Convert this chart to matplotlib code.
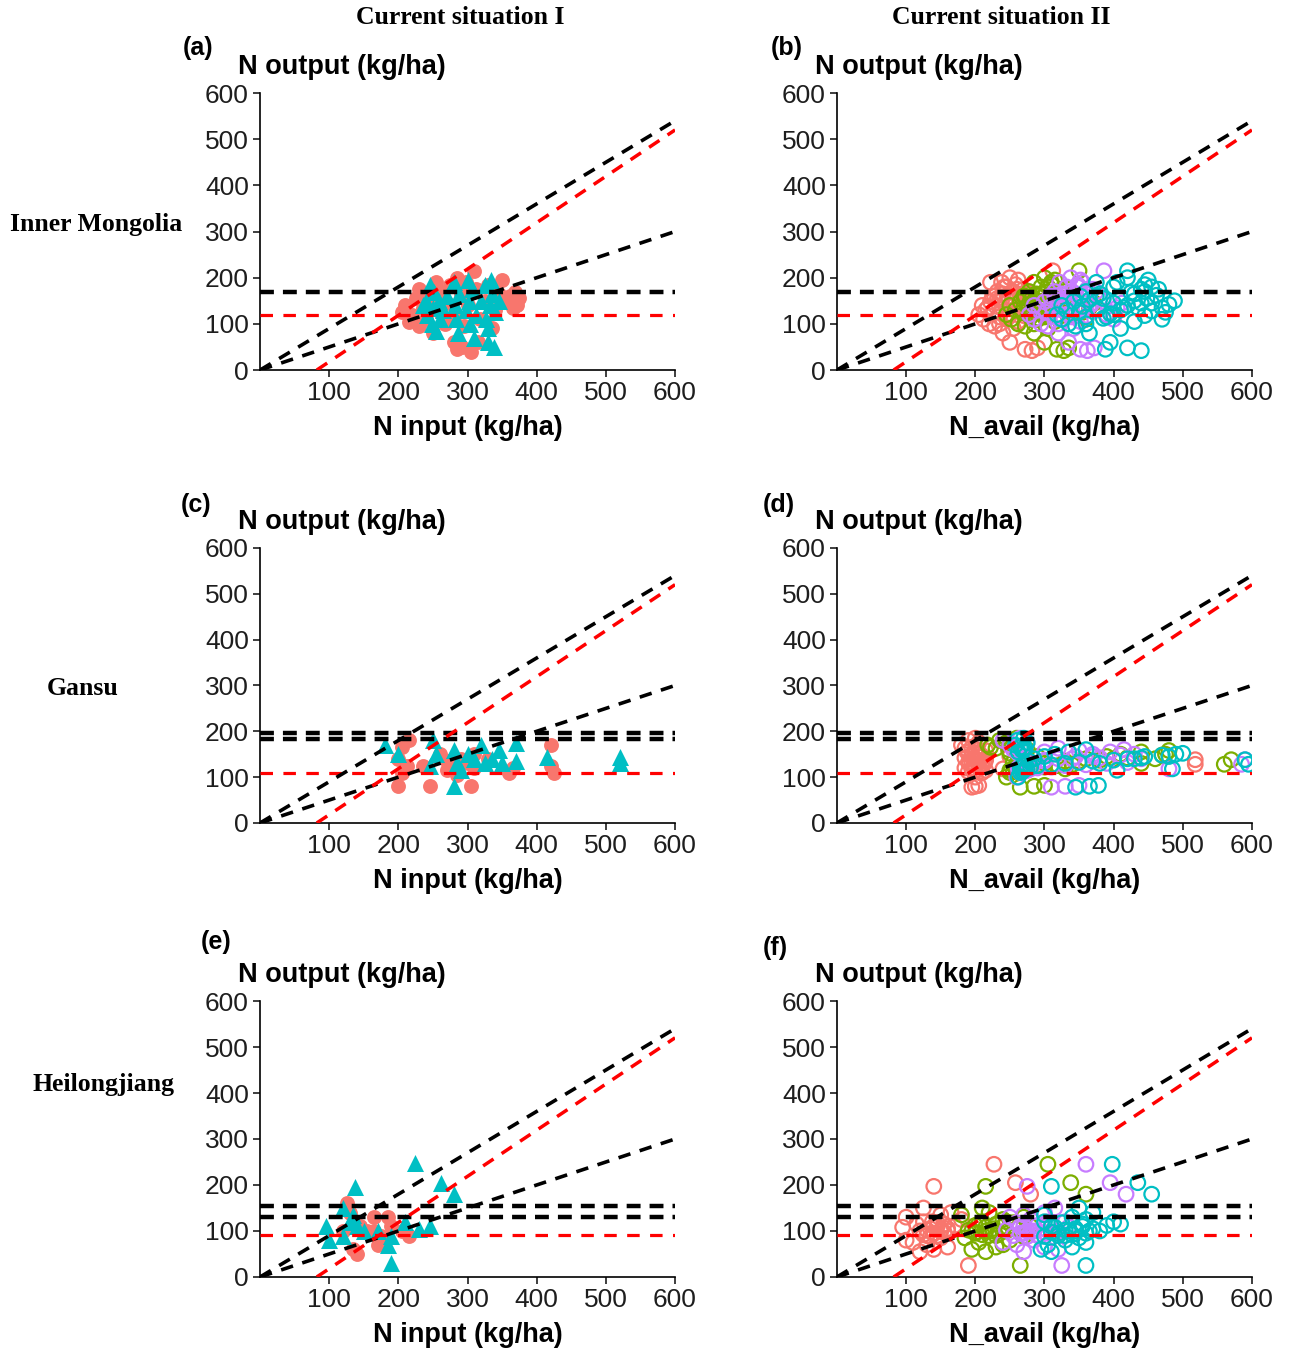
import matplotlib
matplotlib.use("Agg")
import matplotlib.pyplot as plt

plt.rcParams['font.family'] = ['Liberation Sans', 'DejaVu Sans']
plt.rcParams['lines.scale_dashes'] = False

salmon = '#F8766D'
cyan = '#00BFC4'
green = '#7CAE00'
purple = '#C77CFF'

# reference lines
diag_x = [0, 600]
upper_y = [0, 540]
lower_y = [0, 300]
red_x = [82, 600]
red_y = [0, 520]
hline_black = {'a': [170], 'c': [183, 196], 'e': [130, 155]}
hline_red = {'a': 120, 'c': 108, 'e': 92}

# panel (a): N input vs N output
a_sal_x = [205, 210, 215, 220, 225, 230, 230, 235, 240, 245, 250, 255, 260, 262, 268, 270, 275, 280, 282, 285,
           290, 292, 295, 298, 300, 305, 310, 312, 315, 318, 325, 330, 335, 340, 345, 350, 355, 362, 368, 375,
           372, 365, 285, 250, 240]
a_sal_y = [125, 140, 105, 120, 155, 95, 175, 135, 110, 160, 80, 190, 125, 170, 100, 145, 185, 60, 120, 45,
           165, 50, 95, 190, 140, 40, 215, 175, 60, 110, 150, 185, 90, 130, 165, 195, 150, 160, 170, 155,
           140, 135, 200, 175, 150]
a_tri_x = [240, 242, 245, 248, 250, 252, 255, 258, 265, 270, 280, 282, 284, 286, 288, 298, 300, 302, 304, 306,
           310, 312, 320, 325, 327, 329, 330, 332, 334, 336, 338, 340, 345, 235, 260]
a_tri_y = [150, 120, 185, 100, 135, 170, 85, 150, 130, 160, 190, 140, 110, 80, 165, 130, 195, 150, 100, 175,
           70, 120, 150, 185, 110, 60, 90, 140, 195, 165, 50, 125, 150, 140, 110]

# panel (b): N_avail vs N output, four scenarios
b_y = [45, 48, 42, 60, 80, 90, 95, 100, 105, 110, 112, 115, 118, 120, 122, 125, 128, 130, 132, 135, 138, 140, 142,
       145, 148, 150, 152, 155, 158, 160, 162, 165, 168, 170, 175, 180, 185, 190, 195, 200, 215, 125, 135, 145, 110,
       100, 115, 130, 140, 150, 160, 170, 180, 120, 135, 145, 155, 165, 175, 190]
b_x1 = [272, 290, 282, 250, 240, 255, 228, 220, 262, 212, 245, 235, 270, 205, 250, 225, 280, 215, 240, 260, 230, 210,
        275, 245, 222, 255, 235, 285, 248, 228, 265, 240, 252, 232, 270, 245, 258, 238, 262, 250, 312, 295, 285, 300, 290,
        235, 248, 258, 268, 238, 225, 255, 242, 275, 218, 265, 232, 278, 260, 222]
b_x2 = [318, 335, 328, 300, 285, 305, 272, 262, 315, 252, 292, 280, 325, 245, 298, 268, 335, 258, 288, 312, 275, 250,
        330, 295, 265, 305, 280, 345, 298, 272, 318, 288, 302, 278, 325, 295, 310, 285, 315, 300, 350, 355, 365, 372, 360,
        285, 300, 310, 320, 290, 270, 330, 305, 340, 315, 282, 345, 295, 335, 310]
b_x3 = [352, 372, 362, 335, 320, 342, 305, 295, 352, 285, 328, 315, 362, 278, 335, 302, 372, 292, 325, 350, 310, 285,
        368, 332, 300, 342, 318, 385, 335, 308, 355, 325, 340, 315, 362, 332, 348, 322, 352, 338, 386, 395, 405, 412, 400,
        320, 340, 355, 365, 330, 315, 375, 348, 390, 360, 325, 380, 345, 370, 355]
b_x4 = [388, 420, 440, 395, 365, 410, 345, 335, 430, 325, 385, 360, 445, 318, 395, 350, 455, 332, 378, 470, 355, 325,
        480, 400, 342, 488, 365, 448, 410, 352, 462, 380, 425, 360, 440, 400, 445, 375, 450, 420, 420, 475, 435, 455, 470,
        360, 390, 410, 420, 430, 375, 445, 455, 400, 415, 440, 385, 430, 465, 405]

# panel (c)
c_sal_x = [200, 200, 205, 215, 212, 205, 235, 245, 260, 270, 285, 300, 305, 310, 310, 330, 360, 365, 420, 420, 425,
           270, 290]
c_sal_y = [80, 140, 165, 180, 125, 110, 125, 80, 150, 115, 105, 130, 80, 120, 150, 140, 110, 120, 170, 125, 110,
           135, 140]
c_tri_x = [180, 200, 245, 250, 255, 280, 280, 285, 300, 320, 325, 335, 345, 350, 370, 370, 415, 520, 520, 290, 310]
c_tri_y = [170, 150, 125, 180, 150, 80, 160, 130, 150, 170, 130, 140, 160, 130, 175, 135, 145, 145, 130, 115, 140]

# panel (d)
d_y = [78, 80, 82, 100, 110, 112, 115, 118, 120, 122, 125, 127, 130, 132, 135, 137, 140, 142, 145, 148, 150, 152,
       155, 158, 160, 163, 165, 170, 175, 180, 185, 128, 138, 118, 145,
       120, 125, 130, 135, 140, 145, 150, 155, 160, 130, 115, 140]
d_x1 = [195, 200, 205, 200, 210, 190, 215, 195, 185, 205, 200, 210, 195, 190, 205, 215, 200, 185, 210, 195, 205, 200,
        190, 215, 200, 185, 195, 180, 205, 190, 200, 518, 518, 240, 250,
        198, 205, 192, 210, 200, 195, 207, 188, 202, 213, 200, 197]
d_x2 = [265, 285, 300, 245, 250, 255, 262, 270, 280, 300, 320, 340, 260, 255, 350, 380, 400, 420, 265, 470, 475, 250,
        440, 480, 248, 230, 222, 218, 245, 235, 260, 560, 570, 330, 290,
        258, 265, 300, 330, 360, 390, 410, 260, 275, 440, 250, 460]
d_x3 = [310, 330, 350, 260, 265, 270, 275, 280, 290, 310, 330, 360, 390, 420, 270, 300, 340, 380, 268, 410, 430, 262,
        300, 350, 255, 320, 260, 250, 275, 240, 265, 585, 590, 480, 370,
        262, 268, 285, 300, 320, 345, 370, 395, 415, 268, 275, 440]
d_x4 = [345, 365, 378, 262, 265, 268, 270, 272, 275, 280, 290, 310, 330, 350, 370, 400, 420, 440, 445, 470, 490, 500,
        262, 268, 270, 272, 265, 258, 275, 260, 270, 595, 590, 485, 480,
        265, 268, 272, 278, 285, 300, 315, 335, 360, 380, 405, 430]

# panel (e)
e_sal_x = [125, 130, 135, 140, 165, 170, 175, 185, 190, 205, 215, 120, 145, 155, 165]
e_sal_y = [160, 140, 60, 50, 130, 70, 90, 130, 110, 100, 90, 100, 110, 100, 100]
e_tri_x = [224, 137, 262, 280, 95, 120, 100, 130, 140, 150, 170, 185, 190, 190, 210, 230, 245, 120, 135]
e_tri_y = [248, 196, 205, 180, 110, 150, 80, 120, 110, 100, 100, 70, 30, 90, 120, 105, 110, 90, 135]

# panel (f)
f_y = [25, 55, 60, 65, 70, 75, 80, 85, 88, 90, 92, 95, 97, 100, 100, 102, 105, 108, 110, 112, 115, 118, 120, 125,
       130, 135, 140, 150, 180, 197, 205, 245, 95, 100, 105, 110, 115, 90, 100, 120]
f_x1 = [190, 120, 140, 160, 130, 110, 100, 150, 135, 145, 125, 140, 155, 120, 150, 130, 160, 95, 140, 170, 115, 145,
        125, 180, 100, 150, 165, 125, 280, 140, 258, 227, 140, 150, 135, 145, 155, 130, 160, 138]
f_x2 = [265, 215, 195, 230, 240, 205, 250, 185, 270, 220, 210, 235, 200, 245, 225, 190, 260, 215, 280, 200, 230, 255,
        210, 240, 270, 180, 220, 210, 360, 215, 338, 305, 200, 215, 225, 240, 205, 230, 195, 245]
f_x3 = [325, 270, 320, 300, 260, 240, 285, 310, 275, 255, 290, 265, 300, 280, 320, 245, 300, 335, 270, 290, 310, 260,
        330, 280, 250, 270, 300, 315, 418, 275, 395, 360, 270, 285, 300, 265, 310, 290, 275, 305]
f_x4 = [360, 310, 295, 340, 305, 360, 330, 350, 300, 320, 340, 360, 310, 380, 345, 330, 370, 315, 355, 390, 410, 325,
        400, 360, 340, 300, 370, 350, 455, 310, 435, 398, 320, 335, 345, 310, 355, 330, 365, 300]

xticks = [100, 200, 300, 400, 500, 600]
yticks = [0, 100, 200, 300, 400, 500, 600]


def setup(ax, row, xlabel):
    ax.set_xlim(0, 600)
    ax.set_ylim(0, 600)
    ax.spines['top'].set_visible(False)
    ax.spines['right'].set_visible(False)
    ax.spines['left'].set_linewidth(1.2)
    ax.spines['bottom'].set_linewidth(1.2)
    ax.set_xticks(xticks)
    ax.set_yticks(yticks)
    ax.tick_params(labelsize=19, length=5, width=1.2, colors='#1e1e1e', pad=3)
    for k in hline_black[row]:
        ax.plot(diag_x, [k, k], color='black', lw=3.2, ls=(0, (10, 6.5)), zorder=5)
    ax.plot(diag_x, [hline_red[row]] * 2, color='red', lw=2.3, ls=(0, (9, 7.5)), zorder=5)
    ax.plot(diag_x, upper_y, color='black', lw=2.6, ls=(0, (9, 7)), zorder=5)
    ax.plot(diag_x, lower_y, color='black', lw=2.6, ls=(0, (9, 7)), zorder=5)
    ax.plot(red_x, red_y, color='red', lw=2.5, ls=(0, (9, 7)), zorder=5)
    ax.text(-0.053, 1.094, 'N output (kg/ha)', transform=ax.transAxes, fontsize=19.5,
            fontweight='bold', va='center', ha='left')
    ax.text(0.5, -0.21, xlabel, transform=ax.transAxes, fontsize=19.5,
            fontweight='bold', va='center', ha='center')


fig = plt.figure(figsize=(12.9, 13.52), dpi=100)
lefts = [0.2016, 0.6488]
bottoms = [0.7263, 0.3913, 0.0555]
heights = [0.2049, 0.2034, 0.2041]
rows = ['a', 'c', 'e']
letters = [['(a)', '(b)'], ['(c)', '(d)'], ['(e)', '(f)']]
letter_pos = [[(-0.186, 1.162), (-0.159, 1.162)],
              [(-0.19, 1.156), (-0.18, 1.156)],
              [(-0.142, 1.214), (-0.178, 1.192)]]

axes = []
for r in range(3):
    pair = []
    for c in range(2):
        ax = fig.add_axes([lefts[c], bottoms[r], 0.3217, heights[r]])
        setup(ax, rows[r], 'N input (kg/ha)' if c == 0 else 'N_avail (kg/ha)')
        lx, ly = letter_pos[r][c]
        ax.text(lx, ly, letters[r][c], transform=ax.transAxes, fontsize=18,
                fontweight='bold', va='center', ha='left')
        pair.append(ax)
    axes.append(pair)

ms_fill = 115
ms_tri = 150
ms_open = 110

# filled panels
for ax, sx, sy, tx, ty in [(axes[0][0], a_sal_x, a_sal_y, a_tri_x, a_tri_y),
                           (axes[1][0], c_sal_x, c_sal_y, c_tri_x, c_tri_y),
                           (axes[2][0], e_sal_x, e_sal_y, e_tri_x, e_tri_y)]:
    ax.scatter(sx, sy, s=ms_fill, color=salmon, marker='o', linewidths=0, zorder=2)
    ax.scatter(tx, ty, s=ms_tri, color=cyan, marker='^', linewidths=0, zorder=3)

# open-marker panels
for ax, y, xs in [(axes[0][1], b_y, [b_x1, b_x2, b_x3, b_x4]),
                  (axes[1][1], d_y, [d_x1, d_x2, d_x3, d_x4]),
                  (axes[2][1], f_y, [f_x1, f_x2, f_x3, f_x4])]:
    for x, col in zip(xs, [salmon, green, purple, cyan]):
        ax.scatter(x, y, s=ms_open, facecolors='none', edgecolors=col, marker='o', linewidths=1.6, zorder=2)

serif = ['Liberation Serif', 'DejaVu Serif']
fig.text(460 / 1290, 1 - 18 / 1352, 'Current situation I', family=serif, fontsize=18.5,
         fontweight='bold', ha='center', va='center')
fig.text(1001 / 1290, 1 - 18 / 1352, 'Current situation II', family=serif, fontsize=18.5,
         fontweight='bold', ha='center', va='center')
fig.text(96 / 1290, 1 - 225 / 1352, 'Inner Mongolia', family=serif, fontsize=18.5,
         fontweight='bold', ha='center', va='center')
fig.text(83 / 1290, 1 - 688 / 1352, 'Gansu', family=serif, fontsize=18.5,
         fontweight='bold', ha='center', va='center')
fig.text(103 / 1290, 1 - 1085 / 1352, 'Heilongjiang', family=serif, fontsize=18.5,
         fontweight='bold', ha='center', va='center')

fig.savefig('out.png', dpi=100)
